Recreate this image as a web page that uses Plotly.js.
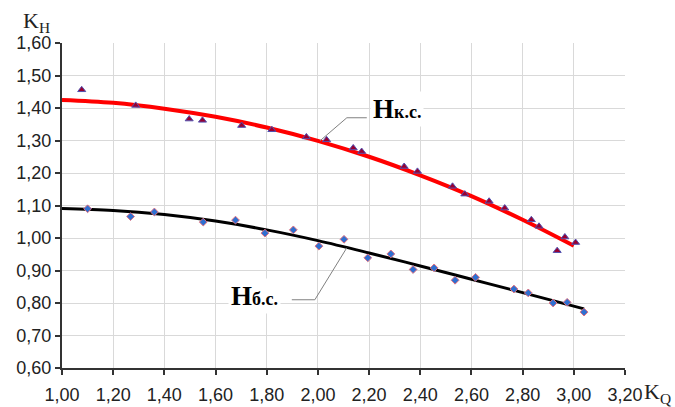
<!DOCTYPE html>
<html>
<head>
<meta charset="utf-8">
<script src="https://cdn.plot.ly/plotly-3.0.1.min.js"></script>
<style>html,body{margin:0;padding:0;background:#fff;}#chart{width:675px;height:407px;}</style>
</head>
<body>
<div id="chart"></div>
<script>
// Measured points, series Нк.с. (triangles)
var ksX = [1.077, 1.288, 1.497, 1.549, 1.702, 1.820, 1.955, 2.034, 2.138, 2.171, 2.337, 2.389, 2.526, 2.574, 2.669, 2.730, 2.834, 2.864, 2.935, 2.965, 3.007];
var ksY = [1.456, 1.408, 1.366, 1.362, 1.346, 1.333, 1.311, 1.302, 1.277, 1.266, 1.220, 1.205, 1.159, 1.135, 1.113, 1.092, 1.056, 1.036, 0.961, 1.003, 0.986];
// Trend line Нк.с. (red)
var ksLineX = [1.0, 1.2, 1.4, 1.6, 1.8, 2.0, 2.2, 2.4, 2.6, 2.8, 3.0];
var ksLineY = [1.425, 1.416, 1.398, 1.373, 1.340, 1.299, 1.250, 1.193, 1.129, 1.056, 0.976];
// Measured points, series Нб.с. (diamonds)
var bsX = [1.100, 1.268, 1.361, 1.552, 1.678, 1.793, 1.904, 2.004, 2.102, 2.195, 2.285, 2.372, 2.454, 2.536, 2.616, 2.766, 2.822, 2.919, 2.974, 3.040];
var bsY = [1.090, 1.066, 1.080, 1.049, 1.055, 1.015, 1.025, 0.975, 0.996, 0.939, 0.951, 0.903, 0.908, 0.870, 0.879, 0.843, 0.831, 0.800, 0.802, 0.772];
// Trend line Нб.с. (black)
var bsLineX = [1.0, 1.2, 1.4, 1.6, 1.8, 2.0, 2.2, 2.4, 2.6, 2.8, 3.04];
var bsLineY = [1.091, 1.085, 1.072, 1.052, 1.025, 0.992, 0.954, 0.914, 0.873, 0.832, 0.782];

var labelKS = "Н<span style='font-size:18px'>к.с.</span>";
var labelBS = "Н<span style='font-size:18px'>б.с.</span>";

var traces = [
  {x: ksLineX, y: ksLineY, mode: 'lines', line: {color: '#ff0000', width: 4, shape: 'spline'}, hoverinfo: 'skip'},
  {x: bsLineX, y: bsLineY, mode: 'lines', line: {color: '#000000', width: 3, shape: 'spline'}, hoverinfo: 'skip'},
  {x: ksX, y: ksY, mode: 'markers', marker: {symbol: 'triangle-up', size: 7, color: '#990030', line: {color: '#5050b0', width: 1}}},
  {x: bsX, y: bsY, mode: 'markers', marker: {symbol: 'diamond', size: 6, color: '#2f6fd0', line: {color: '#e07080', width: 1}}}
];

var tickFont = {family: 'Liberation Sans, Arial, sans-serif', size: 18, color: '#222'};

var layout = {
  width: 675, height: 407,
  margin: {l: 62, r: 50, t: 43, b: 39, pad: 0},
  paper_bgcolor: '#fff', plot_bgcolor: '#fff',
  showlegend: false,
  separators: ',.',
  xaxis: {
    range: [1, 3.2], dtick: 0.2, tick0: 1, tickformat: '.2f',
    showgrid: true, gridcolor: '#d9d9d9', gridwidth: 1,
    showline: true, linecolor: '#333', linewidth: 2,
    ticks: 'outside', ticklen: 5, tickcolor: '#333', tickwidth: 2,
    ticklabelstandoff: 4,
    zeroline: false, tickfont: tickFont
  },
  yaxis: {
    range: [0.6, 1.6], dtick: 0.1, tick0: 0.6, tickformat: '.2f',
    showgrid: true, gridcolor: '#d9d9d9', gridwidth: 1,
    showline: true, linecolor: '#333', linewidth: 2,
    ticks: 'outside', ticklen: 5, tickcolor: '#333', tickwidth: 2,
    zeroline: false, tickfont: tickFont
  },
  shapes: [
    {type: 'path', xref: 'x', yref: 'y', path: 'M 2.191 1.370 L 2.113 1.370 L 2.008 1.299', line: {color: '#808080', width: 1}},
    {type: 'path', xref: 'x', yref: 'y', path: 'M 1.898 0.810 L 1.988 0.810 L 2.113 0.970', line: {color: '#808080', width: 1}}
  ],
  annotations: [
    {xref: 'x', yref: 'y', x: 2.205, y: 1.398, xanchor: 'left', yanchor: 'middle', showarrow: false,
     text: labelKS, bgcolor: '#ffffff', borderpad: 2,
     font: {family: 'Liberation Serif, Times New Roman, serif', size: 27, color: '#000', weight: 'bold'}},
    {xref: 'x', yref: 'y', x: 1.650, y: 0.822, xanchor: 'left', yanchor: 'middle', showarrow: false,
     text: labelBS, bgcolor: '#ffffff', borderpad: 2,
     font: {family: 'Liberation Serif, Times New Roman, serif', size: 27, color: '#000', weight: 'bold'}},
    {xref: 'paper', yref: 'paper', x: -0.072, y: 1.0, xanchor: 'left', yanchor: 'bottom', yshift: 5, showarrow: false,
     text: 'K<sub>Н</sub>', font: {family: 'Liberation Serif, Times New Roman, serif', size: 22, color: '#222'}},
    {xref: 'paper', yref: 'paper', x: 1.0, y: 0.0, xanchor: 'left', yanchor: 'top', xshift: 17, yshift: -9, showarrow: false,
     text: 'K<sub>Q</sub>', font: {family: 'Liberation Serif, Times New Roman, serif', size: 22, color: '#222'}}
  ]
};

Plotly.newPlot('chart', traces, layout, {displayModeBar: false, staticPlot: true});
</script>
</body>
</html>
